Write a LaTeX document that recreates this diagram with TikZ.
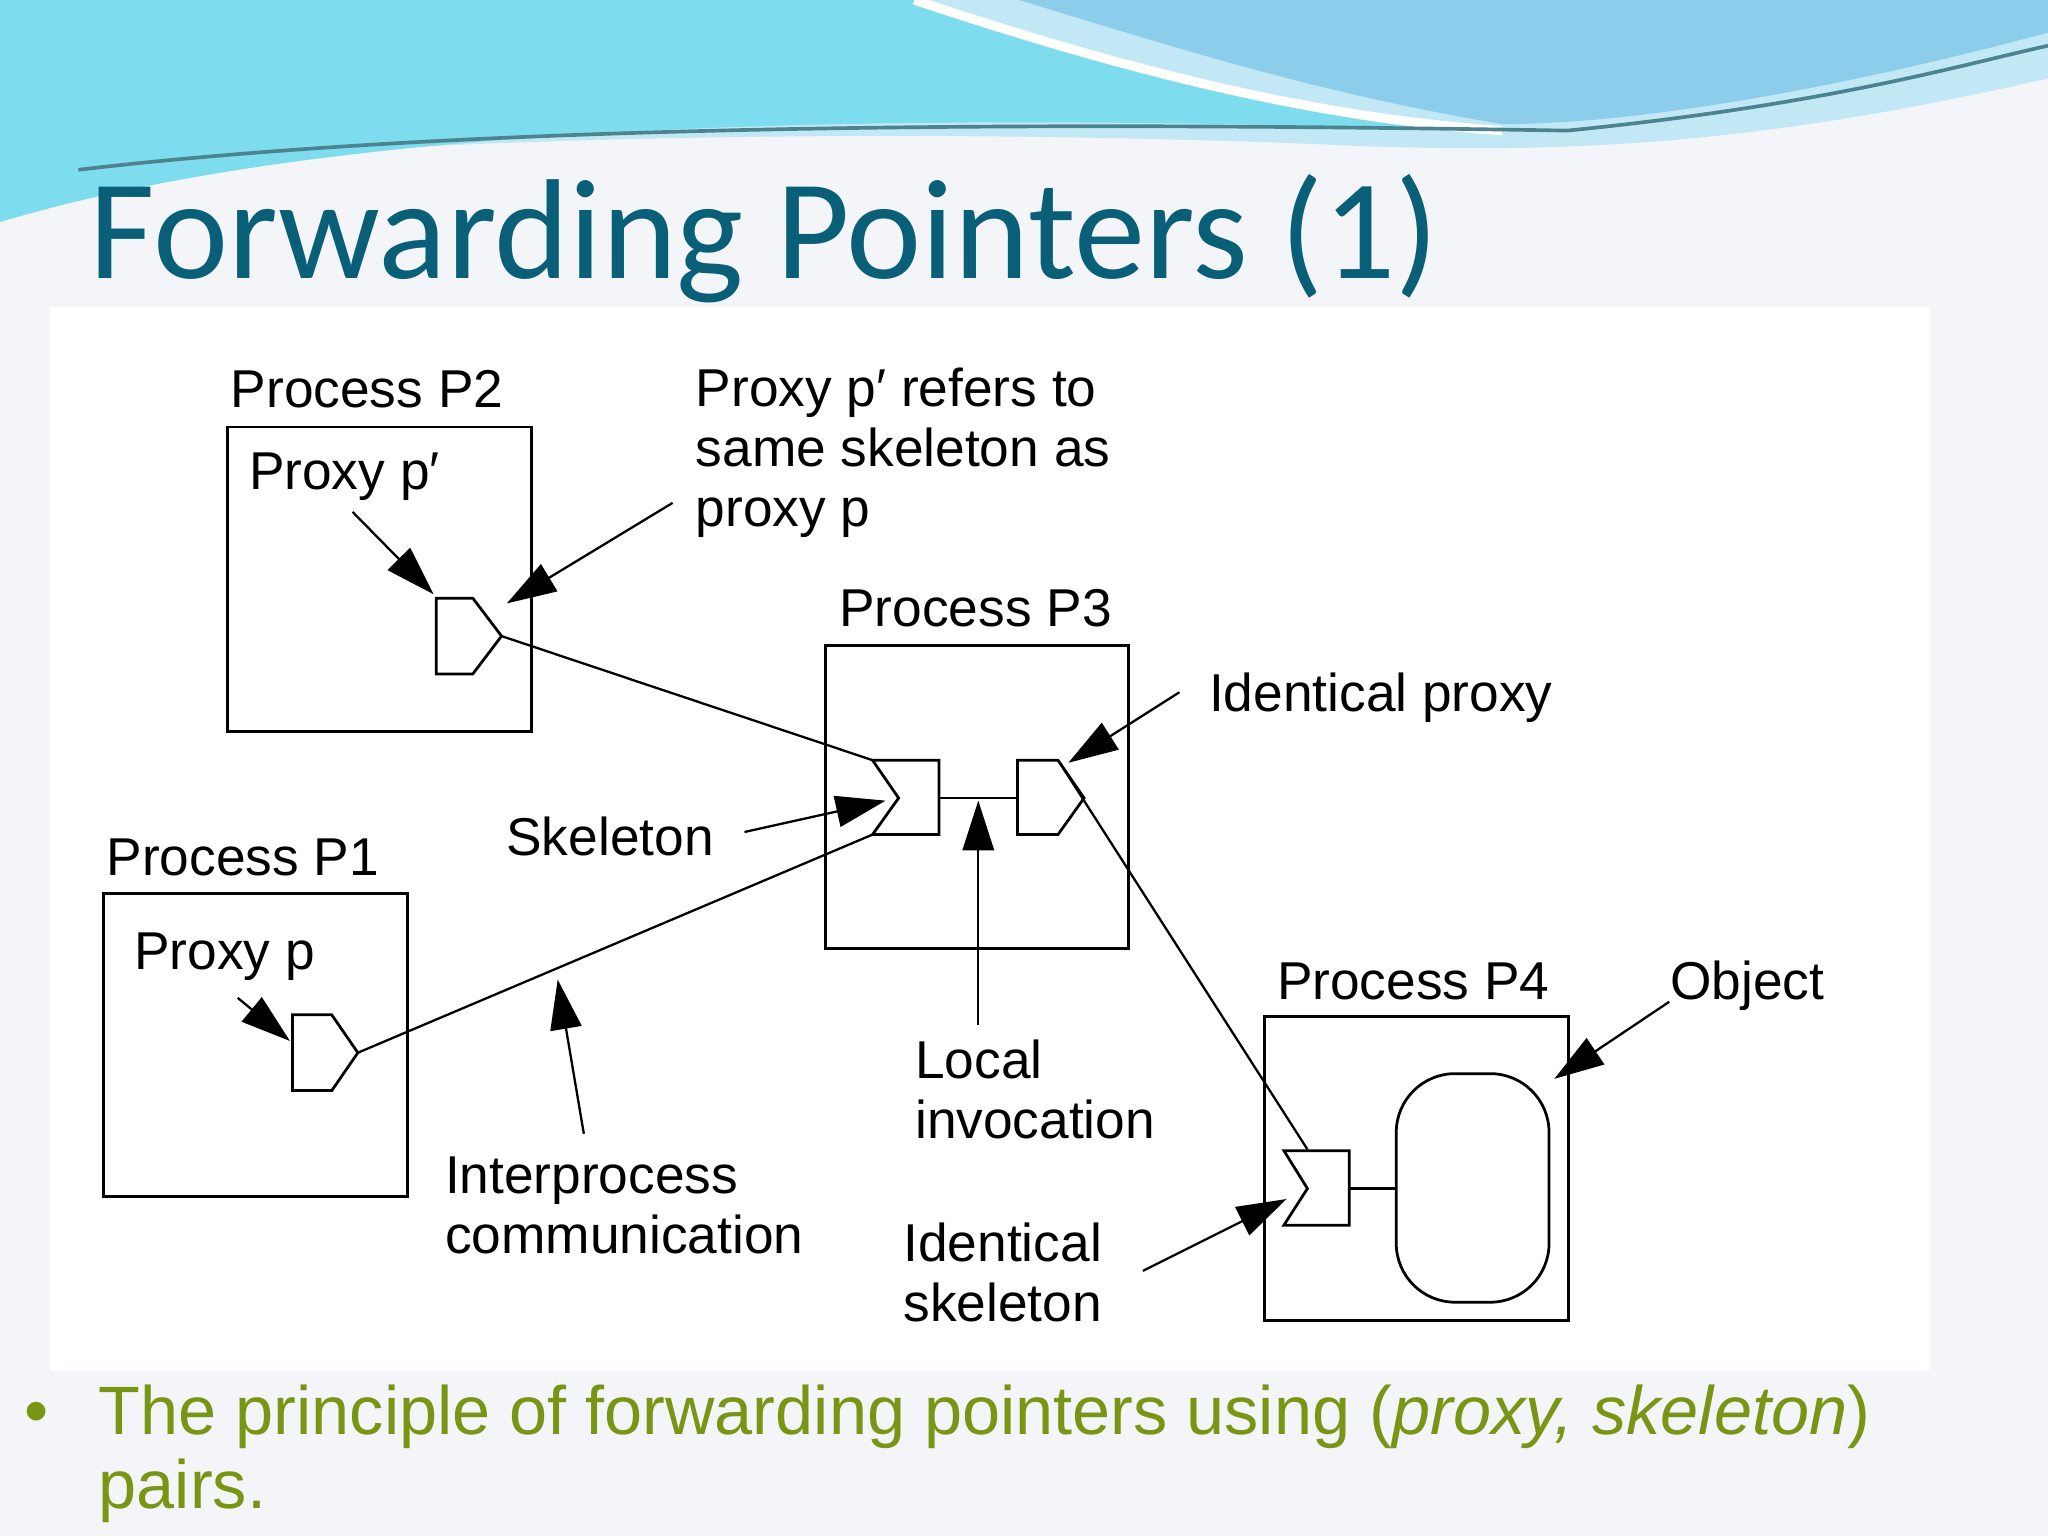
\documentclass[tikz,border=0pt]{standalone}
\usepackage{fontspec}
\setmainfont{Liberation Sans}
\newfontfamily\titlefont{Carlito}
\usetikzlibrary{arrows.meta}
\definecolor{bgc}{RGB}{243,245,249}
\definecolor{titlec}{RGB}{10,95,120}
\definecolor{bulc}{RGB}{120,150,20}
\definecolor{wave1}{RGB}{125,220,238}
\definecolor{wave2}{RGB}{140,205,235}
\definecolor{wave3}{RGB}{195,232,245}
\begin{document}
\begin{tikzpicture}[x=0.01cm,y=-0.01cm,
  lbl/.style={font=\fontsize{11.6}{13.1}\selectfont,anchor=base west,inner sep=0pt,align=left},
  box/.style={draw,line width=0.6pt},
  conn/.style={line width=0.5pt},
  ptr/.style={line width=0.5pt,-{Triangle[length=0.38cm,width=0.24cm]}}]
\useasboundingbox (0,0) rectangle (1568,1176);
\fill[bgc] (0,0) rectangle (1568,1176);
% waves
\fill[wave3] (0,0) -- (1568,0) -- (1568,60) .. controls (1350,110) and (1200,120) .. (1000,110) .. controls (600,95) and (200,110) .. (0,140) -- cycle;
\fill[wave1] (0,0) -- (700,0) .. controls (850,50) and (1000,90) .. (1150,100) .. controls (800,90) and (300,80) .. (0,170) -- cycle;
\fill[wave2] (780,0) -- (1568,0) -- (1568,25) .. controls (1400,70) and (1250,95) .. (1150,95) .. controls (1000,70) and (880,30) .. (780,0) -- cycle;
\draw[white,line width=2pt] (700,0) .. controls (850,50) and (1000,90) .. (1150,100);
\draw[wave1!60!black,line width=0.8pt] (60,130) .. controls (400,90) and (900,95) .. (1200,100) .. controls (1400,80) and (1500,50) .. (1568,35);
\fill[white] (38,235) rectangle (1478,1050);
% title
\node[anchor=base west,inner sep=0pt,text=titlec,font=\titlefont\fontsize{31}{34}\selectfont] (title) at (68,213) {Forwarding Pointers (1)};
% boxes
\draw[box] (174,327) rectangle (407,560);
\draw[box] (632,494) rectangle (864,726);
\draw[box] (79,684) rectangle (312,916);
\draw[box] (968,778) rectangle (1201,1011);
% proxies / skeletons
\draw[box] (334,458) -- (362,458) -- (384,487) -- (362,516) -- (334,516) -- cycle;
\coordinate (p2tip) at (384,487);
\draw[box] (668,582) -- (719,582) -- (719,639) -- (668,639) -- (688,611) -- cycle;
\coordinate (skA) at (668,582); \coordinate (skB) at (668,639); \coordinate (skR) at (719,611);
\draw[box] (779,582) -- (810,582) -- (830,611) -- (810,639) -- (779,639) -- cycle;
\coordinate (ipL) at (779,611); \coordinate (ipT) at (812,585);
\draw[box] (224,777) -- (254,777) -- (274,806) -- (254,835) -- (224,835) -- cycle;
\coordinate (p1tip) at (274,806);
\draw[box] (983,881) -- (1033,881) -- (1033,938) -- (983,938) -- (1001,910) -- cycle;
\coordinate (s4T) at (1001,880); \coordinate (s4R) at (1033,910);
\draw[box,rounded corners=0.45cm] (1069,822) rectangle (1186,997);
\coordinate (objL) at (1069,910);
% connectors
\draw[conn] (p2tip) -- (skA);
\draw[conn] (p1tip) -- (skB);
\draw[conn] (skR) -- (ipL);
\draw[conn] (ipT) -- (s4T);
\draw[conn] (s4R) -- (objL);
% labels (multi-line nodes anchored at last baseline)
\node[lbl] (l1) at (176,312) {Process P2};
\node[lbl] (l2) at (190,375) {Proxy p′};
\node[lbl] (l3) at (532,403) {Proxy p′ refers to\\same skeleton as\\proxy p};
\node[lbl] (l4) at (642,480) {Process P3};
\node[lbl] (l5) at (925,545) {Identical proxy};
\node[lbl] (l6) at (387,655) {Skeleton};
\node[lbl] (l7) at (81,670) {Process P1};
\node[lbl] (l8) at (102,742) {Proxy p};
\node[lbl] (l9) at (977,765) {Process P4};
\node[lbl] (l10) at (1278,765) {Object};
\node[lbl] (l11) at (700,872) {Local\\invocation};
\node[lbl] (l12) at (340,960) {Interprocess\\communication};
\node[lbl] (l13) at (691,1012) {Identical\\skeleton};
% pointer arrows
\coordinate (a1s) at (270,392); \coordinate (a1e) at (332,455);
\coordinate (a2s) at (515,385); \coordinate (a2e) at (388,462);
\coordinate (a3s) at (182,764); \coordinate (a3e) at (222,797);
\coordinate (a4s) at (570,637); \coordinate (a4e) at (678,613);
\coordinate (a5s) at (903,530); \coordinate (a5e) at (818,584);
\coordinate (a6s) at (749,785); \coordinate (a6e) at (749,613);
\coordinate (a7s) at (447,868); \coordinate (a7e) at (427,750);
\coordinate (a8s) at (1278,767); \coordinate (a8e) at (1190,826);
\coordinate (a9s) at (875,973); \coordinate (a9e) at (985,918);
\foreach \i in {1,...,9} \draw[ptr] (a\i s) -- (a\i e);
% bullet
\node[anchor=base west,inner sep=0pt,text=bulc,font=\fontsize{15}{16.2}\selectfont] (bul) at (18,1098) {•};
\node[anchor=base west,inner sep=0pt,text=bulc,font=\fontsize{14.9}{16.2}\selectfont,align=left] (bt) at (75,1155) {The principle of forwarding pointers using (\textit{proxy, skeleton})\\pairs.};
\end{tikzpicture}
\end{document}
